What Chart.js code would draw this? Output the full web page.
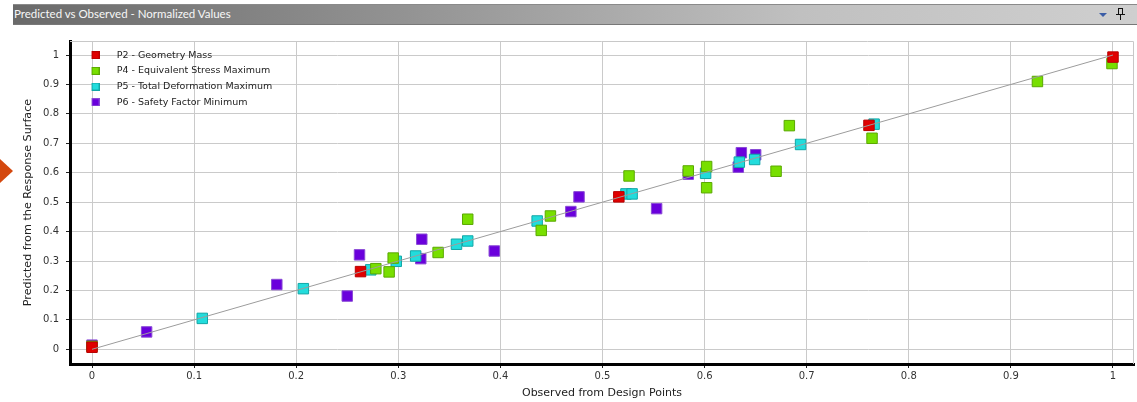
<!DOCTYPE html>
<html><head><meta charset="utf-8">
<script src="https://cdn.jsdelivr.net/npm/chart.js@4.4.1/dist/chart.umd.min.js"></script>
<style>
html,body{margin:0;padding:0;background:#fff;width:1137px;height:402px;overflow:hidden;}
#wrap{position:relative;width:1137px;height:402px;}
#chart{position:absolute;left:0;top:0;}
#bar{position:absolute;left:13px;top:4px;width:1124px;height:21px;box-sizing:border-box;
 background:linear-gradient(to right,#6a6a6a 0%,#939393 35%,#c0c0c0 70%,#cfcfcf 100%);
 border-top:1px solid #8a8a8a;border-bottom:1px solid #787878;}
#bar .t{position:absolute;left:1px;top:2px;font:11.5px Lato, sans-serif;color:#f7f7f7;white-space:nowrap;}
#tri{position:absolute;left:1099px;top:13px;width:0;height:0;border-left:4px solid transparent;border-right:4px solid transparent;border-top:4px solid #3b5da6;}
#pinh{position:absolute;left:1118px;top:8px;width:3px;height:5px;border:1px solid #111;}
#pinb{position:absolute;left:1116px;top:14px;width:9px;height:1px;background:#111;}
#pinv{position:absolute;left:1120px;top:15px;width:1px;height:5px;background:#111;}
#arrow{position:absolute;left:0;top:159px;width:0;height:0;border-left:13px solid #d4480e;border-top:12px solid transparent;border-bottom:12px solid transparent;}
</style></head>
<body><div id="wrap">
<canvas id="chart" width="1137" height="402"></canvas>
<div id="bar"><span class="t">Predicted vs Observed - Normalized Values</span></div>
<div id="tri"></div><div id="pinh"></div><div id="pinb"></div><div id="pinv"></div>
<div id="arrow"></div>
</div>
<script>
// ---- data ----
const seriesNames = ['P2 - Geometry Mass','P4 - Equivalent Stress Maximum','P5 - Total Deformation Maximum','P6 - Safety Factor Minimum'];
const p2X = [0, 0.263, 0.516, 0.761, 1.0];
const p2Y = [0.007, 0.264, 0.518, 0.761, 0.993];
const p4X = [0, 0.278, 0.291, 0.295, 0.339, 0.368, 0.440, 0.449, 0.526, 0.584, 0.602, 0.602, 0.670, 0.683, 0.764, 0.926, 0.999];
const p4Y = [0.010, 0.274, 0.263, 0.310, 0.329, 0.442, 0.404, 0.453, 0.589, 0.606, 0.621, 0.549, 0.605, 0.760, 0.717, 0.910, 0.971];
const p5X = [0.108, 0.207, 0.273, 0.298, 0.317, 0.357, 0.368, 0.436, 0.523, 0.529, 0.601, 0.634, 0.649, 0.694, 0.766];
const p5Y = [0.105, 0.206, 0.270, 0.299, 0.317, 0.357, 0.368, 0.436, 0.528, 0.528, 0.598, 0.636, 0.645, 0.696, 0.765];
const p6X = [0, 0.0535, 0.181, 0.250, 0.262, 0.322, 0.323, 0.394, 0.469, 0.477, 0.553, 0.584, 0.633, 0.636, 0.650];
const p6Y = [0.014, 0.059, 0.220, 0.181, 0.321, 0.308, 0.374, 0.334, 0.468, 0.518, 0.478, 0.595, 0.619, 0.668, 0.661];
const refLineX = [0, 1];
const refLineY = [0, 1];
const xTickValues = [0, 0.1, 0.2, 0.3, 0.4, 0.5, 0.6, 0.7, 0.8, 0.9, 1];
const yTickValues = [0, 0.1, 0.2, 0.3, 0.4, 0.5, 0.6, 0.7, 0.8, 0.9, 1];
const xTitle = 'Observed from Design Points';
const yTitle = 'Predicted from the Response Surface';

// ---- styles ----
const fills = ['#e00000', '#78df00', '#22dcdc', '#6a00dc'];
const strokes = ['#b80000', '#5aa800', '#12a6a6', '#8a4ad6'];
const toPts = (xs, ys) => xs.map((x, i) => ({x: x, y: ys[i]}));

function legendImg(fill, stroke) {
  const c = document.createElement('canvas');
  c.width = 11; c.height = 8;
  const g = c.getContext('2d');
  g.fillStyle = stroke; g.fillRect(3, 0, 8, 8);
  g.fillStyle = fill; g.fillRect(4, 1, 6, 6);
  return c;
}
const legendImgs = fills.map((f, i) => legendImg(f, strokes[i]));

const seriesX = [p2X, p4X, p5X, p6X];
const seriesY = [p2Y, p4Y, p5Y, p6Y];
const datasets = [{
  label: 'ref',
  data: toPts(refLineX, refLineY),
  showLine: true,
  borderColor: '#9c9c9c',
  borderWidth: 1,
  pointRadius: 0,
  fill: false
}];
seriesNames.forEach((n, i) => {
  datasets.push({
    label: n,
    data: toPts(seriesX[i], seriesY[i]),
    pointStyle: 'rect',
    pointRadius: 7.4,
    pointHoverRadius: 7.4,
    backgroundColor: fills[i],
    borderColor: strokes[i],
    borderWidth: 1
  });
});

const frame = {
  id: 'frame',
  beforeDatasetsDraw(chart) {
    const {ctx, chartArea: a} = chart;
    ctx.save();
    ctx.strokeStyle = '#c8c8c8';
    ctx.lineWidth = 1;
    ctx.beginPath();
    ctx.moveTo(a.left, a.top + 0.5); ctx.lineTo(a.right - 0.5, a.top + 0.5);
    ctx.lineTo(a.right - 0.5, a.bottom);
    ctx.stroke();
    ctx.restore();
  }
};

const tickFont = {family: 'DejaVu Sans', size: 10};
const titleFont = {family: 'DejaVu Sans', size: 11};

new Chart(document.getElementById('chart'), {
  type: 'scatter',
  data: {datasets: datasets},
  options: {
    responsive: false,
    animation: false,
    events: [],
    layout: {autoPadding: false, padding: {left: 0, top: 41, right: 3, bottom: 0}},
    scales: {
      x: {
        type: 'linear', min: -0.02155, max: 1.02057,
        afterBuildTicks(s) { s.ticks = xTickValues.map(v => ({value: v})); },
        afterFit(s) { s.height = 38; },
        ticks: {font: tickFont, color: '#333', padding: 2, autoSkip: false, maxRotation: 0,
                callback: v => String(Math.round(v * 10) / 10)},
        grid: {color: '#cacaca', lineWidth: 1, drawTicks: true, tickLength: 4, tickColor: '#222', tickWidth: 1},
        border: {color: '#000', width: 3},
        title: {display: true, text: xTitle, font: titleFont, color: '#222', padding: {top: 0, bottom: 2}}
      },
      y: {
        type: 'linear', min: -0.04995, max: 1.0476,
        afterBuildTicks(s) { s.ticks = yTickValues.map(v => ({value: v})); },
        afterFit(s) { s.width = 70; },
        ticks: {font: tickFont, color: '#333', padding: 7, autoSkip: false,
                callback: v => String(Math.round(v * 10) / 10)},
        grid: {color: '#cacaca', lineWidth: 1, drawTicks: true, tickLength: 4, tickColor: '#222', tickWidth: 1},
        border: {color: '#000', width: 3},
        title: {display: true, text: yTitle, font: {family: 'DejaVu Sans', size: 11.2}, color: '#222', padding: {top: 21, bottom: 0}}
      }
    },
    plugins: {
      tooltip: {enabled: false},
      legend: {
        position: 'chartArea', align: 'start',
        title: {display: true, text: '', font: {size: 1}, padding: {top: 43, bottom: 0}},
        labels: {
          usePointStyle: true, pointStyleWidth: 35.7,
          font: {family: 'DejaVu Sans', size: 9.5}, color: '#222', padding: 6.2,
          generateLabels(chart) {
            const items = Chart.defaults.plugins.legend.labels.generateLabels(chart);
            return items.filter(it => it.datasetIndex > 0).map(it => {
              it.pointStyle = legendImgs[it.datasetIndex - 1];
              return it;
            });
          }
        }
      }
    }
  },
  plugins: [frame]
});
</script>
</body></html>
